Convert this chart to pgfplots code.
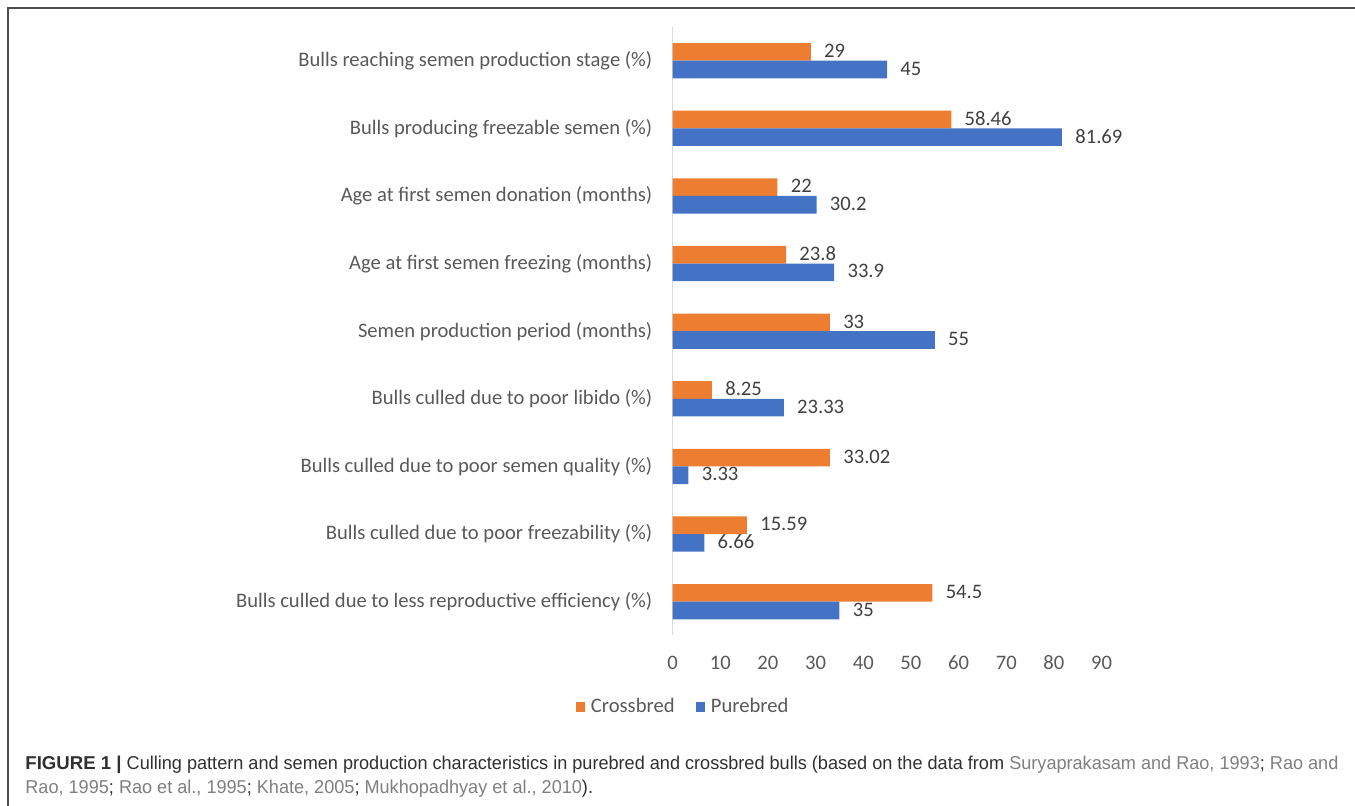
\documentclass[border=0pt]{standalone}
\usepackage{fontspec}
\setmainfont{Carlito}
\newfontfamily\capfont{Liberation Sans}
\usepackage{graphicx}
\usepackage{pgfplots}
\pgfplotsset{compat=1.18}
\definecolor{xorange}{HTML}{ED7D31}
\definecolor{xblue}{HTML}{4472C4}
\definecolor{lbl}{HTML}{595959}
\definecolor{dlbl}{HTML}{404040}
\definecolor{axl}{HTML}{D9D9D9}
\definecolor{capdark}{HTML}{303030}
\definecolor{capgray}{HTML}{7F7F7F}
\definecolor{framec}{HTML}{4D4D4D}
\newcommand\capbold{\textbf{FIGURE 1 |} }
\newcommand\capone{Culling pattern and semen production characteristics in purebred and crossbred bulls (based on the data from \textcolor{capgray}{Suryaprakasam and Rao, 1993}; \textcolor{capgray}{Rao and}}
\newcommand\captwo{\textcolor{capgray}{Rao, 1995}; \textcolor{capgray}{Rao et al., 1995}; \textcolor{capgray}{Khate, 2005}; \textcolor{capgray}{Mukhopadhyay et al., 2010}).}
\newcommand\capsize{\capfont\fontsize{9.3}{11}\selectfont}
\newcommand\chfont{\fontsize{10.3}{12}\selectfont}
\newlength\capw
\newlength\capb
\begin{document}
\settowidth{\capb}{\capsize\capbold}%
\settowidth{\capw}{\capsize\capone}%
\pgfmathsetmacro\capsc{(656.5-\capb)/\capw}%
\begin{tikzpicture}
\path[use as bounding box] (0,0) rectangle (677.5pt,-403pt);
\draw[framec, line width=0.8pt] (4pt,-403pt) -- (4pt,-4pt) -- (677.5pt,-4pt);
\begin{axis}[
  at={(336.3pt,-317.75pt)}, anchor=south west,
  scale only axis, width=214.5pt, height=304.3pt,
  xmin=0, xmax=90, ymin=-0.5, ymax=8.5,
  enlargelimits=false,
  xbar, bar width=8.8pt,
  axis lines*=left,
  x axis line style={draw=none},
  y axis line style={draw=axl, line width=0.6pt},
  major tick length=0pt,
  xtick={0,10,...,90},
  ytick={0,...,8},
  yticklabels={Bulls culled due to less reproductive efficiency (\%),
    Bulls culled due to poor freezability (\%),
    Bulls culled due to poor semen quality (\%),
    Bulls culled due to poor libido (\%),
    Semen production period (months),
    Age at first semen freezing (months),
    Age at first semen donation (months),
    Bulls producing freezable semen (\%),
    Bulls reaching semen production stage (\%)},
  tick label style={font=\chfont, text=lbl, inner sep=0pt},
  yticklabel style={anchor=east, xshift=-10pt},
  xticklabel style={anchor=north, yshift=-10pt},
  /pgf/number format/assume math mode=true,
  point meta=x,
  nodes near coords={\pgfmathprintnumber[fixed,precision=2]{\pgfplotspointmeta}},
  every node near coord/.append style={anchor=west, inner sep=0pt, xshift=6.5pt, yshift=0.5pt, text=dlbl, font=\chfont},
  legend columns=2,
  legend style={at={(axis description cs:0.0219,-0.1175)}, anchor=center,
    draw=none, fill=none, font=\chfont, text=lbl,
    nodes={inner sep=0pt},
    /tikz/every odd column/.append style={column sep=3pt},
    /tikz/every even column/.append style={column sep=10.5pt}},
  legend image code/.code={\fill[#1] (0pt,-2.4pt) rectangle (4.7pt,2.3pt);},
]
\addplot[fill=xorange, draw=none, bar shift=4.4pt] coordinates {
  (54.5,0) (15.59,1) (33.02,2) (8.25,3) (33,4) (23.8,5) (22,6) (58.46,7) (29,8)};
\addplot[fill=xblue, draw=none, bar shift=-4.4pt] coordinates {
  (35,0) (6.66,1) (3.33,2) (23.33,3) (55,4) (33.9,5) (30.2,6) (81.69,7) (45,8)};
\legend{Crossbred, Purebred}
\end{axis}
\node[anchor=base west, inner sep=0pt, text=capdark] at (12.5pt,-384.8pt) {\capsize\capbold\scalebox{\capsc}[1]{\capone}};
\node[anchor=base west, inner sep=0pt, text=capdark] at (12.5pt,-396.8pt) {\capsize\scalebox{\capsc}[1]{\captwo}};
\end{tikzpicture}
\end{document}
